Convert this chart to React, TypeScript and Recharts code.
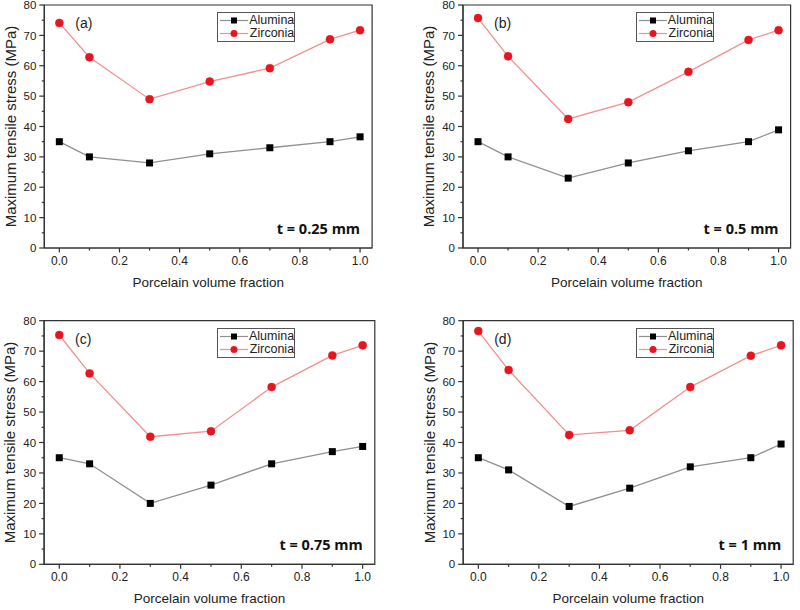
import React from 'react';
import { LineChart, Line, XAxis, YAxis, ReferenceArea, Legend } from 'recharts';

// porcelain volume fractions (shared by every panel)
const fractions = [0, 0.1, 0.3, 0.5, 0.7, 0.9, 1.0];

const aluminaA = [35, 30, 28, 31, 33, 35, 36.6];
const zirconiaA = [74.1, 62.8, 49, 54.8, 59.2, 68.7, 71.7];
const aluminaB = [35, 30, 23, 28, 32, 35, 38.9];
const zirconiaB = [75.7, 63.1, 42.5, 48, 58, 68.5, 71.7];
const aluminaC = [35, 33, 20, 26, 33, 37, 38.7];
const zirconiaC = [75.3, 62.7, 41.9, 43.7, 58.2, 68.6, 71.9];
const aluminaD = [35, 31, 19, 25, 32, 35, 39.5];
const zirconiaD = [76.6, 63.8, 42.5, 44, 58.2, 68.5, 71.9];

const xTicks = [0, 0.1, 0.2, 0.3, 0.4, 0.5, 0.6, 0.7, 0.8, 0.9, 1.0];
const yTicks = [0, 5, 10, 15, 20, 25, 30, 35, 40, 45, 50, 55, 60, 65, 70, 75, 80];
const xDomain = [-0.05, 1.04];

const seriesNames = ['Alumina', 'Zirconia'];

const GREY_LINE = '#909090';
const RED_LINE = '#f29090';
const RED_DOT = '#e8141e';
const AXIS = '#333';
const TEXT = '#222';

const CHART_W = 400;
const CHART_H = 305;
const Y_AXIS_W = 34;
const X_AXIS_H = 40;

const panels = [
  { tag: '(a)', thick: 't = 0.25 mm', alumina: aluminaA, zirconia: zirconiaA, ox: 0, oy: 0, left: 44.3, top: 5, width: 327.8, height: 243 },
  { tag: '(b)', thick: 't = 0.5 mm', alumina: aluminaB, zirconia: zirconiaB, ox: 400, oy: 0, left: 63.0, top: 5, width: 327.6, height: 243 },
  { tag: '(c)', thick: 't = 0.75 mm', alumina: aluminaC, zirconia: zirconiaC, ox: 0, oy: 305, left: 44.1, top: 15.7, width: 330.7, height: 243.6 },
  { tag: '(d)', thick: 't = 1 mm', alumina: aluminaD, zirconia: zirconiaD, ox: 400, oy: 305, left: 63.2, top: 15.7, width: 330, height: 243.6 },
];

const XTick = (props: any) => {
  const { x, y, payload } = props;
  const v = payload.value;
  const major = Math.round(v * 10) % 2 === 0;
  return (
    <g>
      <line x1={x} x2={x} y1={y} y2={y + (major ? 4.5 : 2.5)} stroke={AXIS} strokeWidth={1.2} />
      {major && (
        <text x={x} y={y + 17} textAnchor="middle" fontSize={12} fill={TEXT}>
          {v.toFixed(1)}
        </text>
      )}
    </g>
  );
};

const YTick = (props: any) => {
  const { x, y, payload } = props;
  const v = payload.value;
  const major = v % 10 === 0;
  return (
    <g>
      <line x1={x - (major ? 5 : 2.5)} x2={x} y1={y} y2={y} stroke={AXIS} strokeWidth={1.2} />
      {major && (
        <text x={x - 8} y={y} dy="0.36em" textAnchor="end" fontSize={11.5} fill={TEXT}>
          {v}
        </text>
      )}
    </g>
  );
};

const SquareDot = (props: any) => {
  const { cx, cy, index } = props;
  if (cx == null || cy == null) return <g key={index} />;
  return <rect key={index} x={cx - 3.5} y={cy - 3.5} width={7} height={7} fill="#000" />;
};

const renderLegend = () => (
  <div
    style={{
      border: '1px solid #555',
      background: '#fff',
      width: 78,
      height: 30,
      boxSizing: 'border-box',
      fontSize: 12.5,
      color: TEXT,
      lineHeight: '13px',
      paddingTop: 1,
    }}
  >
    {seriesNames.map((name, i) => (
      <div key={name} style={{ display: 'flex', alignItems: 'center', height: 13 }}>
        <svg width={31} height={13} style={{ marginLeft: 2 }}>
          <line x1={0} x2={28} y1={6.5} y2={6.5} stroke={i === 0 ? GREY_LINE : RED_LINE} strokeWidth={1.2} />
          {i === 0 ? (
            <rect x={11} y={3.5} width={6} height={6} fill="#000" />
          ) : (
            <circle cx={14} cy={6.5} r={3.5} fill={RED_DOT} />
          )}
        </svg>
        <span>{name}</span>
      </div>
    ))}
  </div>
);

function Panel({ p }: { p: (typeof panels)[number] }) {
  const data = fractions.map((x, i) => ({ x, alumina: p.alumina[i], zirconia: p.zirconia[i] }));
  const margin = {
    top: p.top,
    left: p.left - Y_AXIS_W,
    right: CHART_W - p.left - p.width,
    bottom: CHART_H - p.top - p.height - X_AXIS_H,
  };
  return (
    <div style={{ position: 'absolute', left: p.ox, top: p.oy, width: CHART_W, height: CHART_H }}>
      <LineChart width={CHART_W} height={CHART_H} data={data} margin={margin}>
        <XAxis
          dataKey="x"
          type="number"
          domain={xDomain}
          allowDataOverflow
          ticks={xTicks}
          interval={0}
          tickSize={0}
          tickMargin={0}
          tickLine={false}
          tick={<XTick />}
          height={X_AXIS_H}
          axisLine={{ stroke: AXIS, strokeWidth: 1.2 }}
          label={{ value: 'Porcelain volume fraction', position: 'insideBottom', offset: 1, fontSize: 13.5, fill: TEXT }}
        />
        <YAxis
          type="number"
          domain={[0, 80]}
          ticks={yTicks}
          interval={0}
          tickSize={0}
          tickMargin={0}
          tickLine={false}
          tick={<YTick />}
          width={Y_AXIS_W}
          axisLine={{ stroke: AXIS, strokeWidth: 1.2 }}
          label={{
            value: 'Maximum tensile stress (MPa)',
            angle: -90,
            position: 'insideLeft',
            offset: 0,
            fontSize: 15,
            fill: TEXT,
            style: { textAnchor: 'middle' },
          }}
        />
        <ReferenceArea x1={xDomain[0]} x2={xDomain[1]} y1={0} y2={80} fill="none" stroke={AXIS} strokeWidth={1.2} />
        <Line
          name={seriesNames[0]}
          type="linear"
          dataKey="alumina"
          stroke={GREY_LINE}
          strokeWidth={1.3}
          dot={<SquareDot />}
          activeDot={false}
          isAnimationActive={false}
        />
        <Line
          name={seriesNames[1]}
          type="linear"
          dataKey="zirconia"
          stroke={RED_LINE}
          strokeWidth={1.3}
          dot={{ r: 4, fill: RED_DOT, stroke: RED_DOT, strokeWidth: 0.5 }}
          activeDot={false}
          isAnimationActive={false}
        />
        <Legend
          layout="horizontal"
          verticalAlign="middle"
          align="center"
          content={renderLegend}
          wrapperStyle={{ left: p.left + 173, top: p.top + 7, width: 78, height: 30 }}
        />
      </LineChart>
      <div
        style={{
          position: 'absolute',
          left: p.left + 31,
          top: p.top + 10,
          fontSize: 14,
          lineHeight: '16px',
          color: TEXT,
        }}
      >
        {p.tag}
      </div>
      <div
        style={{
          position: 'absolute',
          right: CHART_W - (p.left + p.width - 12),
          top: p.top + p.height - 28,
          fontFamily: '"Open Sans", sans-serif',
          fontWeight: 700,
          fontSize: 14.5,
          lineHeight: '18px',
          color: '#111',
          whiteSpace: 'nowrap',
        }}
      >
        {p.thick}
      </div>
    </div>
  );
}

export default function App() {
  return (
    <div
      style={{
        position: 'absolute',
        left: 0,
        top: 0,
        width: 800,
        height: 610,
        background: '#fff',
        fontFamily: '"Liberation Sans", Arial, sans-serif',
      }}
    >
      {panels.map((p) => (
        <Panel key={p.tag} p={p} />
      ))}
    </div>
  );
}
